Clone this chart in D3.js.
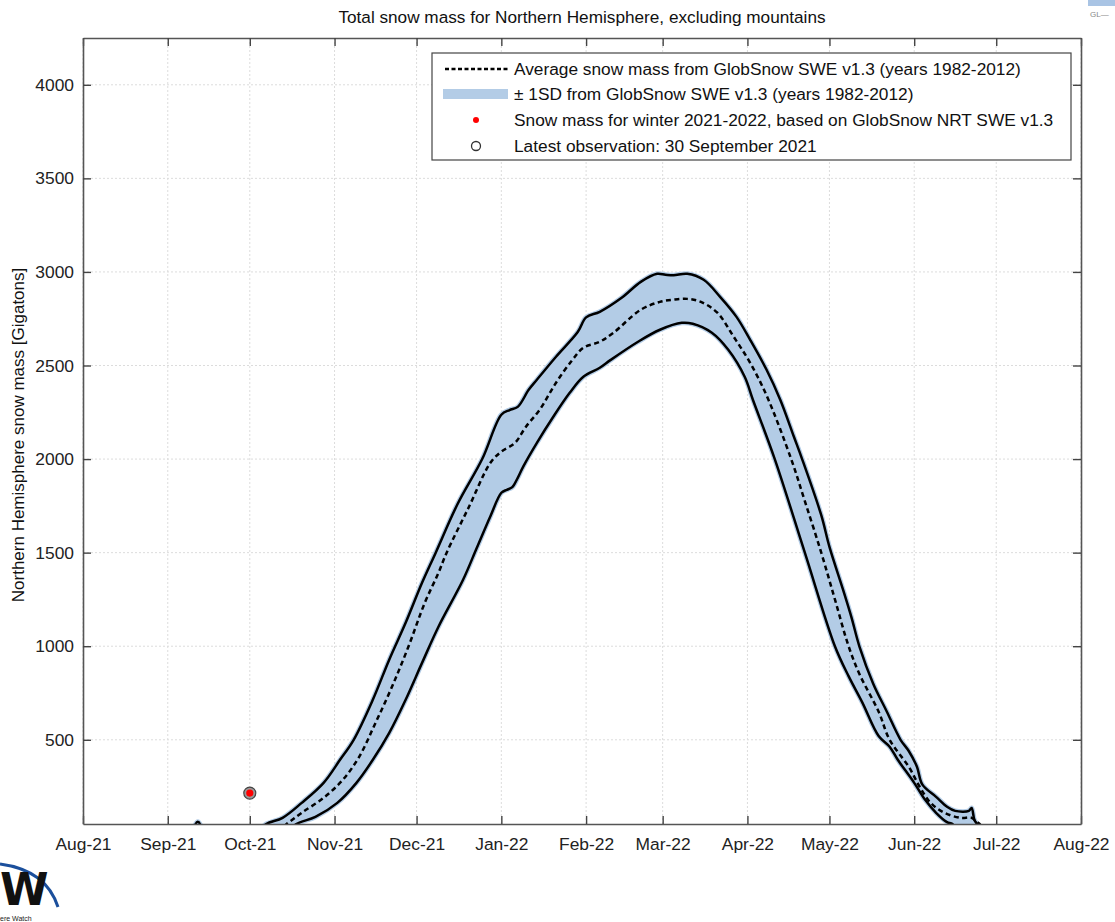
<!DOCTYPE html>
<html><head><meta charset="utf-8">
<script src="https://cdn.jsdelivr.net/npm/d3@7"></script>
<style>
body{margin:0;background:#fff}
svg{display:block;font-family:"Liberation Sans",Arial,Helvetica,sans-serif}
</style>
</head><body>
<svg id="chart" width="1115" height="922"></svg>
<script>
// ---------------- DATA ----------------
const xTickDates = ["2021-08-01","2021-09-01","2021-10-01","2021-11-01","2021-12-01","2022-01-01","2022-02-01","2022-03-01","2022-04-01","2022-05-01","2022-06-01","2022-07-01","2022-08-01"];
const xTickLabels = ["Aug-21","Sep-21","Oct-21","Nov-21","Dec-21","Jan-22","Feb-22","Mar-22","Apr-22","May-22","Jun-22","Jul-22","Aug-22"];
const yTicks = [500,1000,1500,2000,2500,3000,3500,4000];

const upperDates = ["2021-09-01","2021-09-09","2021-09-12","2021-09-15","2021-10-03","2021-10-07","2021-10-13","2021-10-20","2021-10-28","2021-11-03","2021-11-08","2021-11-15","2021-11-21","2021-11-27","2021-12-03","2021-12-08","2021-12-16","2021-12-25","2022-01-01","2022-01-04","2022-01-07","2022-01-11","2022-01-14","2022-01-21","2022-01-29","2022-02-01","2022-02-06","2022-02-14","2022-02-21","2022-02-27","2022-03-02","2022-03-05","2022-03-10","2022-03-16","2022-03-22","2022-03-28","2022-04-02","2022-04-08","2022-04-13","2022-04-18","2022-04-21","2022-04-28","2022-05-01","2022-05-06","2022-05-09","2022-05-12","2022-05-17","2022-05-22","2022-05-27","2022-05-30","2022-06-02","2022-06-04","2022-06-09","2022-06-13","2022-06-16","2022-06-21","2022-06-22","2022-06-23","2022-06-24","2022-06-26","2022-07-10"];
const upperValues = [0,0,62,0,0,50,83,163,270,393,500,714,928,1125,1339,1500,1760,2000,2237,2262,2279,2370,2424,2547,2680,2757,2787,2862,2947,2990,2985,2982,2990,2958,2867,2760,2637,2477,2317,2119,2000,1700,1531,1301,1157,997,800,650,500,440,356,260,195,142,120,120,136,72,50,0,0];

const meanDates = ["2021-09-01","2021-10-10","2021-10-15","2021-10-20","2021-10-28","2021-11-04","2021-11-10","2021-11-16","2021-11-22","2021-11-28","2021-12-04","2021-12-09","2021-12-12","2021-12-20","2021-12-28","2022-01-01","2022-01-06","2022-01-10","2022-01-15","2022-01-21","2022-01-27","2022-01-31","2022-02-06","2022-02-11","2022-02-21","2022-02-28","2022-03-05","2022-03-10","2022-03-15","2022-03-21","2022-03-27","2022-04-02","2022-04-08","2022-04-17","2022-04-22","2022-04-28","2022-05-03","2022-05-08","2022-05-12","2022-05-19","2022-05-23","2022-05-30","2022-06-03","2022-06-07","2022-06-12","2022-06-18","2022-06-22","2022-06-24","2022-06-25","2022-06-27","2022-07-10"];
const meanValues = [0,0,56,110,190,286,409,591,783,997,1232,1392,1500,1740,1980,2040,2087,2173,2263,2408,2530,2595,2627,2675,2798,2840,2852,2856,2840,2782,2653,2514,2340,2000,1775,1500,1250,1000,850,650,500,356,249,163,110,83,83,60,50,0,0];

const lowerDates = ["2021-09-01","2021-10-14","2021-10-18","2021-10-25","2021-11-02","2021-11-09","2021-11-15","2021-11-21","2021-11-27","2021-12-03","2021-12-09","2021-12-18","2021-12-23","2021-12-28","2022-01-01","2022-01-03","2022-01-05","2022-01-07","2022-01-09","2022-01-14","2022-01-20","2022-01-26","2022-01-31","2022-02-06","2022-02-10","2022-02-20","2022-02-28","2022-03-08","2022-03-12","2022-03-19","2022-03-25","2022-03-31","2022-04-03","2022-04-11","2022-04-22","2022-05-03","2022-05-08","2022-05-13","2022-05-19","2022-05-23","2022-05-26","2022-06-01","2022-06-05","2022-06-09","2022-06-13","2022-06-15","2022-06-17","2022-07-10"];
const lowerValues = [0,0,50,88,163,270,393,537,714,911,1104,1355,1525,1695,1820,1836,1850,1900,1960,2087,2226,2354,2440,2488,2530,2627,2691,2728,2723,2675,2584,2440,2317,2000,1500,1000,840,700,520,463,393,270,179,110,60,50,0,0];

const obsDate = "2021-10-01";
const obsValue = 215;

const titleText = "Total snow mass for Northern Hemisphere, excluding mountains";
const yLabelText = "Northern Hemisphere snow mass [Gigatons]";
const legendLabels = [
  "Average snow mass from GlobSnow SWE v1.3 (years 1982-2012)",
  "\u00b1 1SD from GlobSnow SWE v1.3 (years 1982-2012)",
  "Snow mass for winter 2021-2022, based on GlobSnow NRT SWE v1.3",
  "Latest observation: 30 September 2021"
];

// ---------------- CHART ----------------
const parse = d3.utcParse("%Y-%m-%d");
const svg = d3.select("#chart");
const W = 1115, H = 922;
const L = 83, R = 1081, T = 38, B = 824;
const BAND = "#b3cce6";
const FONT = 17.4;

const x = d3.scaleUtc().domain([parse("2021-08-01"), parse("2022-08-01")]).range([L, R]);
const y = d3.scaleLinear().domain([50, 4250]).range([B, T]);

svg.append("rect").attr("width", W).attr("height", H).attr("fill", "#fff");

// title
svg.append("text").attr("x", 582).attr("y", 23).attr("text-anchor", "middle")
  .attr("font-size", 17.2).attr("fill", "#111").text(titleText);

// grid
const g = svg.append("g");
xTickDates.forEach(d => {
  const px = x(parse(d));
  g.append("line").attr("x1", px).attr("x2", px).attr("y1", T).attr("y2", B)
    .attr("stroke", "#dcdcdc").attr("stroke-width", 1).attr("stroke-dasharray", "2,2");
});
yTicks.forEach(v => {
  g.append("line").attr("x1", L).attr("x2", R).attr("y1", y(v)).attr("y2", y(v))
    .attr("stroke", "#dcdcdc").attr("stroke-width", 1).attr("stroke-dasharray", "2,2");
});

// clip
svg.append("clipPath").attr("id", "plotclip").append("rect")
  .attr("x", L).attr("y", T).attr("width", R - L).attr("height", B - T);
const plot = svg.append("g").attr("clip-path", "url(#plotclip)");

const upper = upperDates.map((d, i) => [parse(d), upperValues[i]]);
const mean = meanDates.map((d, i) => [parse(d), meanValues[i]]);
const lower = lowerDates.map((d, i) => [parse(d), lowerValues[i]]);

const line = d3.line().x(d => x(d[0])).y(d => y(d[1])).curve(d3.curveCatmullRom.alpha(0.5));
const bandPath = line(upper) + line(lower.slice().reverse()).replace(/^M/, "L") + "Z";

plot.append("path").attr("d", bandPath)
  .attr("fill", BAND).attr("stroke", BAND).attr("stroke-width", 5).attr("stroke-linejoin", "round");
plot.append("path").attr("d", line(upper)).attr("fill", "none")
  .attr("stroke", "#000").attr("stroke-width", 2.5).attr("stroke-linejoin", "round");
plot.append("path").attr("d", line(lower)).attr("fill", "none")
  .attr("stroke", "#000").attr("stroke-width", 2.5).attr("stroke-linejoin", "round");
plot.append("path").attr("d", line(mean)).attr("fill", "none")
  .attr("stroke", "#000").attr("stroke-width", 2.5).attr("stroke-dasharray", "5,3.5");

// observation point
plot.append("circle").attr("cx", x(parse(obsDate))).attr("cy", y(obsValue)).attr("r", 6)
  .attr("fill", "#9a9a9a").attr("stroke", "#444").attr("stroke-width", 1.2);
plot.append("circle").attr("cx", x(parse(obsDate))).attr("cy", y(obsValue)).attr("r", 3.6)
  .attr("fill", "#ff0000");

// axes
const xd = xTickDates.map(parse);
const fmt = (d, i) => xTickLabels[i];
const axB = svg.append("g").attr("transform", `translate(0,${B})`)
  .call(d3.axisBottom(x).tickValues(xd).tickFormat(fmt).tickSizeInner(-8).tickSizeOuter(0).tickPadding(14));
const axT = svg.append("g").attr("transform", `translate(0,${T})`)
  .call(d3.axisTop(x).tickValues(xd).tickFormat("").tickSizeInner(-8).tickSizeOuter(0));
const axL = svg.append("g").attr("transform", `translate(${L},0)`)
  .call(d3.axisLeft(y).tickValues(yTicks).tickFormat(d3.format("d")).tickSizeInner(-8).tickSizeOuter(0).tickPadding(9));
const axR = svg.append("g").attr("transform", `translate(${R},0)`)
  .call(d3.axisRight(y).tickValues(yTicks).tickFormat("").tickSizeInner(-8).tickSizeOuter(0));
[axB, axT, axL, axR].forEach(a => {
  a.select(".domain").attr("stroke", "#555").attr("stroke-width", 1.6);
  a.selectAll(".tick line").attr("stroke", "#444").attr("stroke-width", 1.4);
  a.selectAll("text").attr("font-size", FONT).attr("fill", "#222")
    .attr("font-family", "'Liberation Sans',Arial,sans-serif");
});

// y label
svg.append("text").attr("transform", `translate(24,${(T + B) / 2 + 4}) rotate(-90)`)
  .attr("text-anchor", "middle").attr("font-size", 17).attr("fill", "#111").text(yLabelText);

// legend
const lg = svg.append("g");
lg.append("rect").attr("x", 432).attr("y", 53).attr("width", 639).attr("height", 107)
  .attr("fill", "#fff").attr("stroke", "#444").attr("stroke-width", 1.2);
const rowY = [69, 94, 120, 146];
lg.append("line").attr("x1", 445).attr("x2", 508).attr("y1", rowY[0]).attr("y2", rowY[0])
  .attr("stroke", "#000").attr("stroke-width", 2.5).attr("stroke-dasharray", "4,2.5");
lg.append("rect").attr("x", 443).attr("y", rowY[1] - 5).attr("width", 65).attr("height", 10).attr("fill", BAND);
lg.append("circle").attr("cx", 476).attr("cy", rowY[2]).attr("r", 3).attr("fill", "#ff0000");
lg.append("circle").attr("cx", 476).attr("cy", rowY[3]).attr("r", 4.5).attr("fill", "none")
  .attr("stroke", "#333").attr("stroke-width", 1.3);
legendLabels.forEach((t, i) => {
  lg.append("text").attr("x", 514).attr("y", rowY[i] + 6).attr("font-size", 17.3)
    .attr("fill", "#111").text(t);
});

// logos (decorative)
const lo = svg.append("g");
const arc = d3.path();
arc.moveTo(0, 864); arc.quadraticCurveTo(46, 870, 58, 907);
lo.append("path").attr("d", arc.toString()).attr("fill", "none").attr("stroke", "#1b4f9c").attr("stroke-width", 3);
lo.append("text").attr("x", 0).attr("y", 905).attr("font-size", 44).attr("font-weight", "bold")
  .attr("font-family", "'DejaVu Sans',sans-serif").attr("fill", "#111").text("W");
lo.append("text").attr("x", 0).attr("y", 921).attr("font-size", 7).attr("fill", "#222").text("ere Watch");
lo.append("rect").attr("x", 1088).attr("y", 0).attr("width", 27).attr("height", 6).attr("fill", "#a9c4e4");
lo.append("text").attr("x", 1090).attr("y", 17).attr("font-size", 8).attr("fill", "#888").text("GL\u2014");
</script>
</body></html>
